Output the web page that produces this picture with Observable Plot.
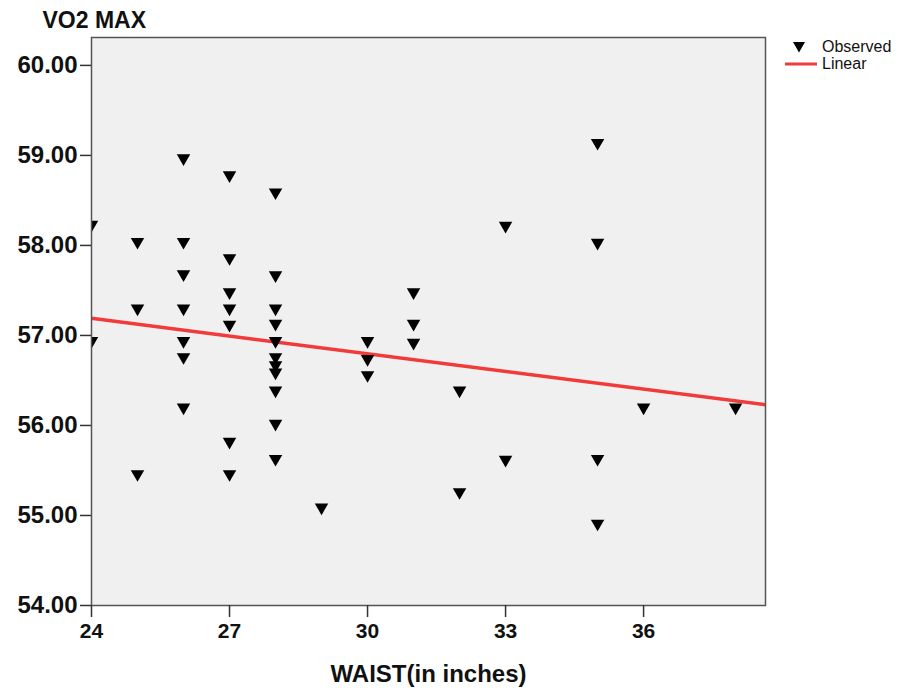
<!DOCTYPE html>
<html>
<head>
<meta charset="utf-8">
<script src="https://cdn.jsdelivr.net/npm/d3@7"></script>
<script src="https://cdn.jsdelivr.net/npm/@observablehq/plot@0.6"></script>
<style>
  html, body { margin: 0; padding: 0; background: #fff; }
  #wrap { position: relative; width: 903px; height: 688px; }
  #legend { position: absolute; left: 784px; top: 38px; font-family: "Liberation Sans", Arial, sans-serif; font-size: 16px; color: #111; }
  #legend .row { height: 17px; display: flex; align-items: center; white-space: nowrap; }
  #legend svg { width: 34px; height: 17px; margin-right: 4px; }
</style>
</head>
<body>
<div id="wrap">
  <div id="chart"></div>
  <div id="legend">
    <div class="row"><svg viewBox="0 0 34 17"><path d="M9,4 L21,4 L15,14.5 Z" fill="#000"/></svg><span>Observed</span></div>
    <div class="row"><svg viewBox="0 0 34 17"><line x1="1" y1="9" x2="33" y2="9" stroke="#f23a3a" stroke-width="3"/></svg><span>Linear</span></div>
  </div>
</div>
<script>
// Observed points: waist (inches) and VO2 MAX
const waist = [
  24, 24,
  25, 25, 25,
  26, 26, 26, 26, 26, 26, 26,
  27, 27, 27, 27, 27, 27, 27,
  28, 28, 28, 28, 28, 28, 28, 28, 28, 28, 28,
  29,
  30, 30, 30,
  31, 31, 31,
  32, 32,
  33, 33,
  35, 35, 35, 35,
  36,
  38
];
const vo2 = [
  58.23, 56.94,
  58.04, 57.30, 55.46,
  58.97, 58.04, 57.68, 57.30, 56.94, 56.76, 56.20,
  58.78, 57.86, 57.48, 57.30, 57.12, 55.82, 55.46,
  58.59, 57.67, 57.30, 57.13, 56.94, 56.76, 56.67, 56.59, 56.39, 56.02, 55.63,
  55.09,
  56.94, 56.74, 56.56,
  57.48, 57.13, 56.92,
  56.39, 55.26,
  58.22, 55.62,
  59.14, 58.03, 55.63, 54.91,
  56.20,
  56.20
];
const xTicks = [24, 27, 30, 33, 36];
const yTicks = [54, 55, 56, 57, 58, 59, 60];
const xDomain = [24, 38.65];
const yDomain = [54, 60.31];
const yTitle = "VO2 MAX";
const xTitle = "WAIST(in inches)";
// Linear fit line: VO2 = intercept + slope * waist
const fitIntercept = 58.762;
const fitSlope = -0.0655;

const points = waist.map((w, i) => ({waist: w, vo2: vo2[i]}));
const fit = xDomain.map(x => ({waist: x, vo2: fitIntercept + fitSlope * x}));

const chart = Plot.plot({
  width: 903,
  height: 688,
  marginLeft: 91,
  marginRight: 138,
  marginTop: 37,
  marginBottom: 83,
  style: {fontFamily: "'Liberation Sans', Arial, sans-serif", fontWeight: "bold", color: "#111", background: "#fff"},
  x: {domain: xDomain},
  y: {domain: yDomain},
  marks: [
    Plot.frame({fill: "#f0f0f0", stroke: null}),
    Plot.line(fit, {x: "waist", y: "vo2", stroke: "#f23a3a", strokeWidth: 3.5, clip: true}),
    Plot.dot(points, {x: "waist", y: "vo2", symbol: "triangle", rotate: 180, r: 5, fill: "#000", stroke: null, clip: true}),
    Plot.frame({stroke: "#555", strokeWidth: 1.5}),
    Plot.axisX({ticks: xTicks, tickSize: 12, tickPadding: 6, tickFormat: d => String(d), fontSize: 21, fontWeight: "bold", stroke: "#333", strokeWidth: 1.5, label: null}),
    Plot.axisY({ticks: yTicks, tickSize: 11, tickPadding: 3, tickFormat: d3.format(".2f"), fontSize: 24, fontWeight: "bold", stroke: "#333", strokeWidth: 1.5, label: null}),
    Plot.text([xTitle], {text: d => d, frameAnchor: "bottom", dy: 69, fontSize: 24, fontWeight: "bold", lineAnchor: "middle"}),
    Plot.text([yTitle], {text: d => d, frameAnchor: "top-left", dx: -49, dy: -17, textAnchor: "start", fontSize: 23, fontWeight: "bold", lineAnchor: "middle"})
  ]
});
document.getElementById("chart").appendChild(chart);
</script>
</body>
</html>
